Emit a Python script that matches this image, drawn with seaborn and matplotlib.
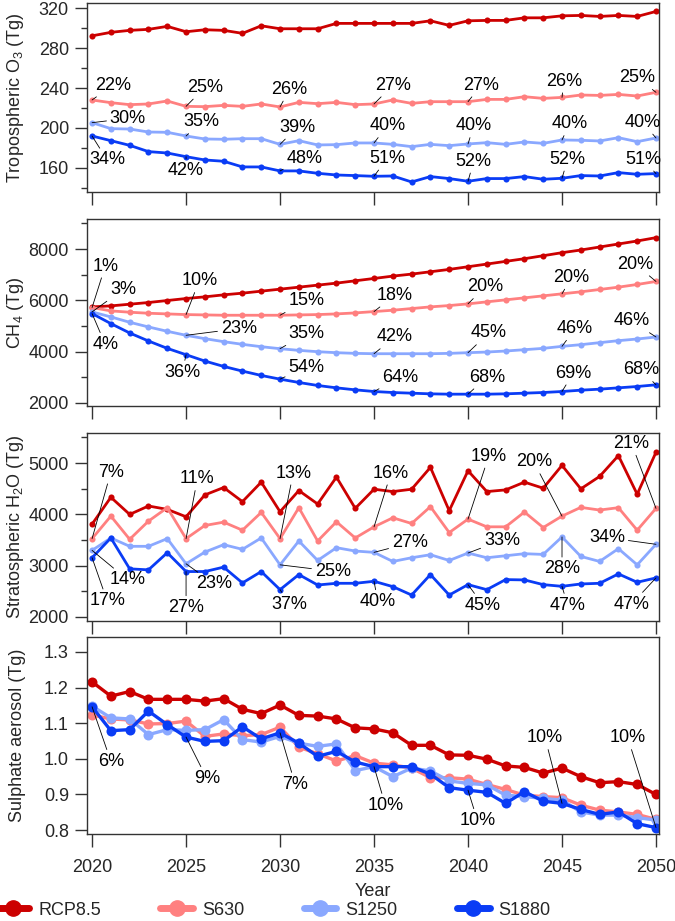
import numpy as np
import pandas as pd
import matplotlib.pyplot as plt
import seaborn as sns
from matplotlib.lines import Line2D
from matplotlib.ticker import MultipleLocator

# ---- data ----
years = list(range(2020, 2051))
scenarios = ["RCP8.5", "S630", "S1250", "S1880"]
label_years = [2020, 2025, 2030, 2035, 2040, 2045, 2050]

o3_rcp85 = [292.5, 296, 298, 299, 302, 296.6, 298.6, 298, 295, 302.6, 299.6, 299.6, 299.6, 305, 305,
            305, 305, 305, 307.6, 303, 307.6, 308, 308, 310.6, 310.6, 312.6, 313, 312, 313, 312, 317]
o3_s630 = [228, 225.3, 223.3, 224, 227, 221.6, 221.3, 222.6, 221.6, 224, 221, 225.6, 224.3, 225.6, 223.3,
           224, 228, 224.6, 226.3, 226.3, 226.3, 228.6, 228.6, 231.3, 229.6, 230.6, 233, 232.6, 233.6, 232, 235.7]
o3_s1250 = [205.2, 199.2, 198.8, 195.8, 195.5, 191.8, 188.8, 188.5, 189.1, 189.1, 183.4, 187.1, 182.8, 183.1, 184.8,
            184.8, 183.4, 181.1, 183.4, 182.1, 183.8, 185.1, 183.4, 185.8, 184.4, 187.8, 187.5, 186.8, 190.1, 186.1, 189.8]
o3_s1880 = [191.8, 187.1, 182.4, 176.1, 174.7, 171, 167.7, 166.4, 160.7, 160.7, 156.7, 156.7, 154.3, 152.6, 152,
            151.3, 151.6, 145.6, 151, 149, 146.3, 149, 149, 151, 148.3, 149.3, 152, 151.6, 155, 153.3, 154]

ch4_rcp85 = [5744, 5783, 5848, 5914, 5992, 6070, 6135, 6213, 6279, 6357, 6435, 6513, 6592, 6670, 6761, 6852,
             6944, 7022, 7113, 7205, 7309, 7413, 7518, 7622, 7739, 7857, 7961, 8078, 8196, 8313, 8443]
ch4_s630 = [5718, 5588, 5536, 5496, 5470, 5444, 5431, 5418, 5418, 5418, 5418, 5431, 5444, 5470, 5509, 5561,
            5614, 5679, 5744, 5796, 5861, 5940, 6018, 6096, 6174, 6253, 6331, 6422, 6513, 6618, 6735]
ch4_s1250 = [5548, 5353, 5144, 4962, 4792, 4636, 4505, 4388, 4284, 4192, 4114, 4049, 3997, 3958, 3932, 3918,
             3918, 3918, 3918, 3932, 3958, 3984, 4023, 4075, 4127, 4205, 4271, 4349, 4427, 4492, 4570]
ch4_s1880 = [5483, 5092, 4727, 4414, 4127, 3879, 3632, 3423, 3240, 3071, 2927, 2797, 2680, 2588, 2510, 2445,
             2406, 2380, 2354, 2341, 2341, 2341, 2354, 2380, 2406, 2445, 2497, 2536, 2588, 2640, 2706]

h2o_rcp85 = [3808, 4332, 3998, 4162, 4096, 3952, 4378, 4522, 4247, 4627, 4050, 4463, 4201, 4725, 4116, 4489,
             4443, 4489, 4915, 4070, 4849, 4443, 4476, 4627, 4509, 4954, 4496, 4738, 5144, 4391, 5210]
h2o_s630 = [3526, 3965, 3513, 3867, 4129, 3526, 3782, 3847, 3690, 4037, 3526, 4129, 3480, 3854, 3539, 3756,
            3932, 3821, 4149, 3644, 3906, 3756, 3756, 4044, 3742, 3965, 4135, 4083, 4129, 3690, 4116]
h2o_s1250 = [3297, 3539, 3376, 3376, 3526, 3035, 3264, 3408, 3317, 3539, 3015, 3480, 3100, 3349, 3284, 3258,
             3081, 3153, 3212, 3100, 3245, 3153, 3192, 3232, 3218, 3559, 3179, 3081, 3330, 3015, 3415]
h2o_s1880 = [3153, 3539, 2937, 2917, 3251, 2884, 2884, 2970, 2662, 2884, 2531, 2825, 2622, 2655, 2655, 2694,
             2590, 2426, 2825, 2426, 2629, 2531, 2727, 2721, 2629, 2596, 2642, 2655, 2838, 2675, 2760]

so4_rcp85 = [1.216, 1.176, 1.189, 1.167, 1.167, 1.167, 1.162, 1.169, 1.139, 1.127, 1.151, 1.122, 1.120, 1.112,
             1.087, 1.084, 1.073, 1.038, 1.038, 1.011, 1.010, 0.999, 0.980, 0.976, 0.960, 0.974, 0.950, 0.933,
             0.936, 0.928, 0.900]
so4_s630 = [1.123, 1.112, 1.109, 1.098, 1.099, 1.106, 1.063, 1.070, 1.065, 1.068, 1.089, 1.033, 1.014, 0.994,
            1.009, 0.988, 0.983, 0.974, 0.947, 0.947, 0.943, 0.928, 0.914, 0.898, 0.894, 0.891, 0.870, 0.856,
            0.851, 0.844, 0.830]
so4_s1250 = [1.148, 1.115, 1.112, 1.068, 1.082, 1.080, 1.082, 1.110, 1.054, 1.047, 1.063, 1.044, 1.035, 1.042,
             0.967, 0.978, 0.950, 0.974, 0.966, 0.938, 0.931, 0.927, 0.898, 0.894, 0.889, 0.884, 0.851, 0.842,
             0.842, 0.835, 0.828]
so4_s1880 = [1.146, 1.079, 1.082, 1.134, 1.096, 1.061, 1.049, 1.051, 1.090, 1.056, 1.073, 1.044, 1.007, 1.021,
             0.991, 0.978, 0.978, 0.978, 0.957, 0.919, 0.912, 0.906, 0.875, 0.908, 0.881, 0.875, 0.858, 0.844,
             0.851, 0.818, 0.807]

# percentage reductions relative to RCP8.5, at label_years
o3_pct = {"S630": ["22%", "25%", "26%", "27%", "27%", "26%", "25%"],
          "S1250": ["30%", "35%", "39%", "40%", "40%", "40%", "40%"],
          "S1880": ["34%", "42%", "48%", "51%", "52%", "52%", "51%"]}
ch4_pct = {"S630": ["1%", "10%", "15%", "18%", "20%", "20%", "20%"],
           "S1250": ["3%", "23%", "35%", "42%", "45%", "46%", "46%"],
           "S1880": ["4%", "36%", "54%", "64%", "68%", "69%", "68%"]}
h2o_pct = {"S630": ["7%", "11%", "13%", "16%", "19%", "20%", "21%"],
           "S1250": ["14%", "23%", "25%", "27%", "33%", "28%", "34%"],
           "S1880": ["17%", "27%", "37%", "40%", "45%", "47%", "47%"]}
so4_pct = {"S1880": ["6%", "9%", "7%", "10%", "10%", "10%", "10%"]}

# ---- label placement (year, value of text centre) ----
o3_txt = {"S630": [(2021.1, 243), (2026.0, 240.7), (2030.5, 238.7), (2036.0, 243), (2040.7, 243), (2045.1, 247), (2049.0, 250.4)],
          "S1250": [(2021.9, 209.5), (2025.8, 206), (2030.9, 200.5), (2035.7, 202), (2040.3, 202), (2045.4, 204), (2049.3, 205.5)],
          "S1880": [(2020.8, 167.7), (2025.0, 157), (2031.3, 169.4), (2035.7, 169.4), (2040.3, 166.4), (2045.3, 168.4), (2049.3, 168.4)]}
ch4_txt = {"S630": [(2020.7, 7335), (2025.7, 6761), (2031.4, 5979), (2036.1, 6200), (2040.9, 6526), (2045.5, 6891), (2048.9, 7413)],
           "S1250": [(2021.65, 6422), (2027.8, 4897), (2031.4, 4701), (2036.1, 4571), (2041.1, 4727), (2045.7, 4897), (2048.7, 5196)],
           "S1880": [(2020.7, 4284), (2024.8, 3201), (2031.4, 3397), (2036.4, 3006), (2041.0, 3006), (2045.6, 3162), (2049.2, 3292)]}
h2o_txt = {"S630": [(2021.0, 4823), (2025.6, 4692), (2030.7, 4803), (2035.9, 4803), (2041.1, 5131), (2043.5, 5020), (2048.7, 5380)],
           "S1250": [(2021.9, 2721), (2026.5, 2642), (2032.8, 2891), (2036.9, 3441), (2041.8, 3494), (2045.0, 2937), (2047.4, 3546)],
           "S1880": [(2020.8, 2314), (2025.0, 2183), (2030.5, 2249), (2035.2, 2301), (2040.8, 2229), (2045.3, 2229), (2048.7, 2249)]}
so4_txt = {"S1880": [(2021.0, 0.993), (2026.1, 0.945), (2030.8, 0.929), (2035.6, 0.870), (2040.5, 0.827), (2044.1, 1.059), (2048.5, 1.059)]}

colors = {"RCP8.5": "#cc0000", "S630": "#ff8080", "S1250": "#8aa8ff", "S1880": "#0a3cf5"}

sns.set_style("ticks")
plt.rcParams["font.family"] = ["Liberation Sans", "DejaVu Sans"]
plt.rcParams["mathtext.default"] = "regular"
fs = 13

fig = plt.figure(figsize=(6.75, 9.21), dpi=100)
left, width = 87 / 675, 572 / 675
boxes = [(3, 192), (219, 406), (433, 621), (637, 834)]

panels = [
    ("Tropospheric O$_3$ (Tg)", [o3_rcp85, o3_s630, o3_s1250, o3_s1880], o3_pct, o3_txt, (135.5, 325.5), 40, 20, False),
    ("CH$_4$ (Tg)", [ch4_rcp85, ch4_s630, ch4_s1250, ch4_s1880], ch4_pct, ch4_txt, (1880, 9170), 2000, 1000, False),
    ("Stratospheric H$_2$O (Tg)", [h2o_rcp85, h2o_s630, h2o_s1250, h2o_s1880], h2o_pct, h2o_txt, (1920, 5585), 1000, 500, False),
    ("Sulphate aerosol (Tg)", [so4_rcp85, so4_s630, so4_s1250, so4_s1880], so4_pct, so4_txt, (0.789, 1.342), 0.1, None, True),
]

for (top, bot), (ylab, series, pct, txt, ylim, major, minor, big) in zip(boxes, panels):
    ax = fig.add_axes([left, 1 - bot / 921, width, (bot - top) / 921])
    df = pd.DataFrame({
        "year": years * 4,
        "value": np.concatenate(series),
        "scenario": np.repeat(scenarios, len(years)),
    })
    sns.lineplot(data=df, x="year", y="value", hue="scenario", hue_order=scenarios,
                 palette=colors, marker="o", markersize=7.2 if big else 4.4,
                 markeredgewidth=0, linewidth=2.4 if big else 2.0,
                 errorbar=None, legend=False, ax=ax)
    for sc, labs in pct.items():
        vals = series[scenarios.index(sc)]
        for yr, lab, (tx, ty) in zip(label_years, labs, txt[sc]):
            ax.annotate(lab, xy=(yr, vals[years.index(yr)]), xytext=(tx, ty),
                        fontsize=fs, ha="center", va="center", color="black",
                        arrowprops=dict(arrowstyle="-", color="black", lw=0.6,
                                        shrinkA=0, shrinkB=0))
    ax.set_xlim(2019.73, 2050.16)
    ax.set_ylim(*ylim)
    ax.set_xticks(range(2020, 2051, 5))
    ax.yaxis.set_major_locator(MultipleLocator(major))
    if minor:
        ax.yaxis.set_minor_locator(MultipleLocator(minor))
    if big:
        ax.yaxis.set_major_formatter(plt.FormatStrFormatter("%.1f"))
        ax.set_xlabel("Year", fontsize=fs, labelpad=5)
    else:
        ax.set_xlabel("")
        ax.tick_params(axis="x", labelbottom=False)
    ax.set_ylabel(ylab, fontsize=fs)
    ax.yaxis.set_label_coords(-0.106, 0.5)
    ax.tick_params(axis="both", which="major", direction="out", length=9, width=1,
                   color="#333333", labelsize=fs)
    ax.tick_params(axis="y", which="major", pad=4)
    ax.tick_params(axis="x", which="major", pad=9)
    ax.tick_params(axis="y", which="minor", direction="out", length=4.5, width=1, color="#333333")
    for s in ax.spines.values():
        s.set_visible(True)
        s.set_color("#333333")
        s.set_linewidth(1)

handles = [Line2D([], [], color=colors[s], lw=5, marker="o", markersize=11) for s in scenarios]
fig.legend(handles, scenarios, loc="center left", bbox_to_anchor=(-0.005, 1 - 910 / 921),
           ncol=4, frameon=False, fontsize=fs, handlelength=1.8, handletextpad=0.5,
           columnspacing=3.3, borderaxespad=0, borderpad=0)

fig.savefig("out.png", dpi=100)
